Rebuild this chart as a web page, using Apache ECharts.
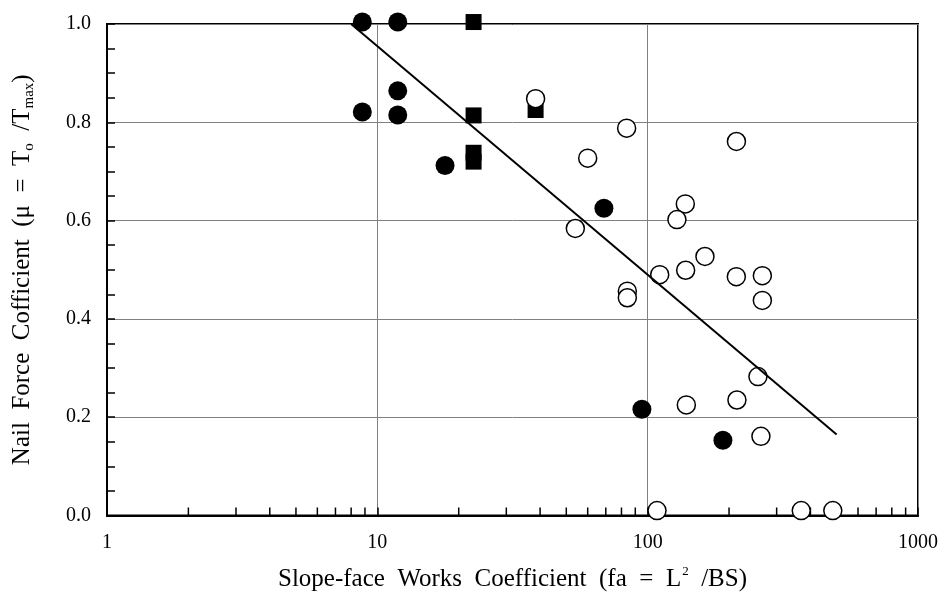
<!DOCTYPE html>
<html>
<head>
<meta charset="utf-8">
<script src="https://cdn.jsdelivr.net/npm/echarts@6/dist/echarts.min.js"></script>
<style>
  html, body { margin: 0; padding: 0; background: #fff; }
  #chart { width: 944px; height: 597px; }
</style>
</head>
<body>
<div id="chart"></div>
<script>
// ---- data ----
const filledCircleX = [8.8, 11.9, 11.9, 8.8, 11.9, 17.8, 68.9, 95.2, 189.8];
const filledCircleY = [1.004, 1.004, 0.864, 0.821, 0.815, 0.712, 0.625, 0.216, 0.153];

const filledSquareX = [22.7, 22.7, 22.7, 22.7, 38.5];
const filledSquareY = [1.004, 0.814, 0.738, 0.720, 0.825];

const openCircleX = [38.5, 83.6, 60.0, 54.0, 84.1, 84.1, 213, 137.8, 128.3, 162.9, 110.8, 138.2, 212.8, 265.6, 265.6, 255.8, 139, 213.9, 262.4, 108.3, 369.9, 484];
const openCircleY = [0.848, 0.788, 0.727, 0.584, 0.4565, 0.443, 0.761, 0.634, 0.602, 0.527, 0.490, 0.499, 0.486, 0.488, 0.4376, 0.2826, 0.225, 0.235, 0.161, 0.010, 0.010, 0.010];

const trendX = [8, 500];
const trendY = [1.0, 0.165];

const xMinorTicks = [2, 3, 4, 5, 6, 7, 8, 9, 20, 30, 40, 50, 60, 70, 80, 90, 200, 300, 400, 500, 600, 700, 800, 900];
const xTickLabels = [1, 10, 100, 1000];
const yTickLabels = [0, 0.2, 0.4, 0.6, 0.8, 1.0];

const FONT = 'Liberation Serif';

function pairs(xs, ys) { return xs.map((x, i) => [x, ys[i]]); }

const chart = echarts.init(document.getElementById('chart'), null, { renderer: 'canvas' });

const option = {
  backgroundColor: '#fff',
  animation: false,
  grid: {
    left: 107, top: 24, width: 811, height: 492.5,
    show: true, borderColor: '#000', borderWidth: 2, backgroundColor: 'transparent'
  },
  xAxis: {
    type: 'log', logBase: 10, min: xTickLabels[0], max: xTickLabels[xTickLabels.length - 1],
    name: '{a|Slope-face  Works  Coefficient  (fa  =  L}{sup|2}{a|  /BS)}',
    nameLocation: 'middle', nameGap: 50,
    nameTextStyle: {
      fontFamily: FONT, color: '#000',
      rich: {
        a: { fontFamily: FONT, fontSize: 25, color: '#000', lineHeight: 28 },
        sup: { fontFamily: FONT, fontSize: 13, color: '#000', verticalAlign: 'top', lineHeight: 28, padding: [0, 0, 0, 1] }
      }
    },
    axisLine: { show: true, onZero: false, lineStyle: { color: '#000', width: 2 } },
    axisTick: { show: true, inside: true, length: 8, lineStyle: { color: '#000', width: 1.5 } },
    axisLabel: {
      fontFamily: FONT, fontSize: 20, color: '#000', margin: 17,
      formatter: v => String(Math.round(v))
    },
    splitLine: { show: true, lineStyle: { color: '#808080', width: 1 } },
    minorTick: { show: false }
  },
  yAxis: {
    type: 'value', min: yTickLabels[0], max: yTickLabels[yTickLabels.length - 1], interval: 0.2,
    name: '{a|Nail  Force  Cofficient  (μ  =  T}{sub|o}{a|  /T}{sub|max}{a|)}',
    nameLocation: 'middle', nameGap: 70, nameRotate: 90,
    nameTextStyle: {
      fontFamily: FONT, color: '#000',
      rich: {
        a: { fontFamily: FONT, fontSize: 25, color: '#000', lineHeight: 30 },
        sub: { fontFamily: FONT, fontSize: 15, color: '#000', verticalAlign: 'bottom', lineHeight: 30 }
      }
    },
    axisLine: { show: true, lineStyle: { color: '#000', width: 2 } },
    axisTick: { show: true, inside: true, length: 8, lineStyle: { color: '#000', width: 1.5 } },
    minorTick: { show: true, splitNumber: 4, length: 8, lineStyle: { color: '#000', width: 1.5 } },
    axisLabel: {
      fontFamily: FONT, fontSize: 20, color: '#000', margin: 16,
      formatter: v => v.toFixed(1)
    },
    splitLine: { show: true, lineStyle: { color: '#808080', width: 1 } }
  },
  series: [
    {
      name: 'xminor', type: 'scatter', silent: true, clip: false, z: 1,
      symbol: 'rect', symbolSize: [1.5, 8], symbolOffset: [0, -4],
      itemStyle: { color: '#000', opacity: 1 },
      data: xMinorTicks.map(v => [v, 0])
    },
    {
      name: 'squares', type: 'scatter', clip: false, z: 3,
      symbol: 'rect', symbolSize: 16,
      itemStyle: { color: '#000', opacity: 1 },
      data: pairs(filledSquareX, filledSquareY)
    },
    {
      name: 'filled', type: 'scatter', clip: false, z: 3,
      symbol: 'circle', symbolSize: 19,
      itemStyle: { color: '#000', opacity: 1 },
      data: pairs(filledCircleX, filledCircleY)
    },
    {
      name: 'open', type: 'scatter', clip: false, z: 4,
      symbol: 'circle', symbolSize: 18,
      itemStyle: { color: '#fff', borderColor: '#000', borderWidth: 1.5, opacity: 1 },
      data: pairs(openCircleX, openCircleY)
    },
    {
      name: 'trend', type: 'line', z: 5, symbol: 'none', clip: false,
      lineStyle: { color: '#000', width: 2 },
      data: pairs(trendX, trendY)
    }
  ]
};
chart.setOption(option);
</script>
</body>
</html>
